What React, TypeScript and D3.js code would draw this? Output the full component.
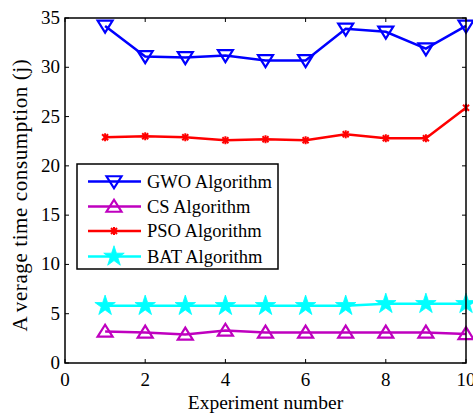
import React from "react";
import * as d3 from "d3";

const experiments = [1, 2, 3, 4, 5, 6, 7, 8, 9, 10];
const gwo = [34.2, 31.1, 31.0, 31.2, 30.7, 30.7, 33.9, 33.6, 31.9, 34.2];
const cs = [3.2, 3.1, 2.9, 3.3, 3.1, 3.1, 3.1, 3.1, 3.1, 2.95];
const pso = [22.9, 23.0, 22.9, 22.6, 22.7, 22.6, 23.2, 22.8, 22.8, 25.9];
const bat = [5.8, 5.8, 5.8, 5.8, 5.8, 5.8, 5.8, 6.0, 6.0, 6.0];
const xTicks = [0, 2, 4, 6, 8, 10];
const yTicks = [0, 5, 10, 15, 20, 25, 30, 35];
const seriesNames = ["GWO Algorithm", "CS Algorithm", "PSO Algorithm", "BAT Algorithm"];

const W = 473, H = 414;
const L = 65, R = 466, T = 18, B = 363;
const FONT = "'Liberation Serif', 'Times New Roman', serif";

function Marker({ kind, x, y, color }: { kind: string; x: number; y: number; color: string }) {
  if (kind === "down") {
    const s = 7.5;
    return <path d={`M${x - s},${y - s * 0.7} L${x + s},${y - s * 0.7} L${x},${y + s * 0.9} Z`} fill="none" stroke={color} strokeWidth={2.2} />;
  }
  if (kind === "up") {
    const s = 7.5;
    return <path d={`M${x - s},${y + s * 0.7} L${x + s},${y + s * 0.7} L${x},${y - s * 0.9} Z`} fill="none" stroke={color} strokeWidth={2.2} />;
  }
  if (kind === "x") {
    const s = 3;
    return (
      <g stroke={color} strokeWidth={2}>
        <line x1={x - s} y1={y - s} x2={x + s} y2={y + s} />
        <line x1={x - s} y1={y + s} x2={x + s} y2={y - s} />
        <line x1={x} y1={y - s - 1} x2={x} y2={y + s + 1} />
      </g>
    );
  }
  const star = d3.symbol().type(d3.symbolStar).size(130)();
  return <path d={star as string} transform={`translate(${x},${y})`} fill={color} stroke={color} strokeWidth={0.8} />;
}

export default function App() {
  const x = d3.scaleLinear().domain([0, 10]).range([L, R]);
  const y = d3.scaleLinear().domain([0, 35]).range([B, T]);
  const line = d3.line<number>().x((_, i) => x(experiments[i])).y((d) => y(d));
  const series = [
    { data: gwo, color: "#0000ff", kind: "down" },
    { data: cs, color: "#bf00bf", kind: "up" },
    { data: pso, color: "#ff0000", kind: "x" },
    { data: bat, color: "#00ffff", kind: "star" },
  ];
  const legY = [181.5, 206.5, 231, 256.5];
  return (
    <svg width={W} height={H} style={{ position: "absolute", left: 0, top: 0, background: "#fff" }} fontFamily={FONT}>
      <rect x={0} y={0} width={W} height={H} fill="#fff" />
      {series.map((s, si) => (
        <g key={si}>
          <path d={line(s.data) as string} fill="none" stroke={s.color} strokeWidth={2.5} />
          {s.data.map((v, i) => (
            <Marker key={i} kind={s.kind} x={x(experiments[i])} y={y(v)} color={s.color} />
          ))}
        </g>
      ))}
      <rect x={L} y={T} width={R - L} height={B - T} fill="none" stroke="#000" strokeWidth={1.5} />
      {xTicks.map((t) => (
        <g key={"x" + t}>
          <line x1={x(t)} x2={x(t)} y1={B} y2={B - 4} stroke="#000" />
          <line x1={x(t)} x2={x(t)} y1={T} y2={T + 4} stroke="#000" />
          <text x={x(t)} y={386} fontSize={19} textAnchor="middle">{t}</text>
        </g>
      ))}
      {yTicks.map((t) => (
        <g key={"y" + t}>
          <line x1={L} x2={L + 4} y1={y(t)} y2={y(t)} stroke="#000" />
          <line x1={R} x2={R - 4} y1={y(t)} y2={y(t)} stroke="#000" />
          <text x={60} y={y(t) + 6} fontSize={19} textAnchor="end">{t}</text>
        </g>
      ))}
      <text x={(L + R) / 2} y={409} fontSize={19.5} textAnchor="middle">Experiment number</text>
      <text transform={`translate(27,195) rotate(-90)`} fontSize={21} textAnchor="middle" letterSpacing={0.6}>
        <tspan>A</tspan><tspan dx={5}>verage time consumption (j)</tspan>
      </text>
      <rect x={77} y={164} width={201} height={105} fill="#fff" stroke="#000" strokeWidth={1.5} />
      {series.map((s, i) => (
        <g key={"l" + i}>
          <line x1={88} x2={141} y1={legY[i]} y2={legY[i]} stroke={s.color} strokeWidth={2.5} />
          <Marker kind={s.kind} x={114} y={legY[i]} color={s.color} />
          <text x={147} y={legY[i] + 6} fontSize={18.5}>{seriesNames[i]}</text>
        </g>
      ))}
    </svg>
  );
}
